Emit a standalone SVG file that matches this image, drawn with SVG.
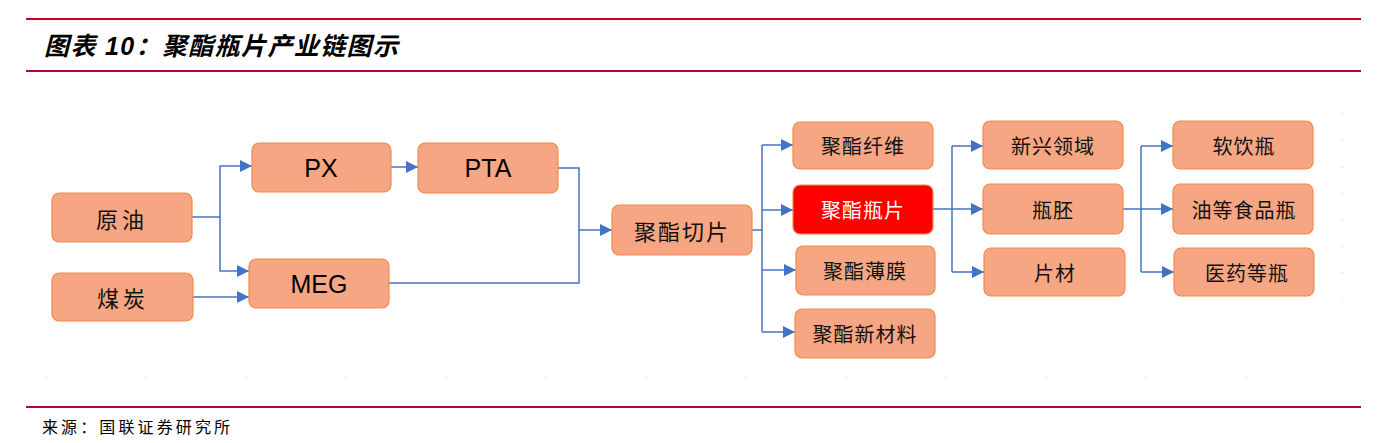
<svg xmlns="http://www.w3.org/2000/svg" width="1394" height="443" viewBox="0 0 1394 443">
<style>
.rule{stroke:#C00026;stroke-width:2;fill:none}
.box{fill:#F6A683;stroke:#F08A4B;stroke-width:1.2}
.hot{fill:#FF0000;stroke:#F08A4B;stroke-width:1.2}
.cn{font-family:"Noto Sans CJK SC",sans-serif;font-size:20px;fill:#111;text-anchor:middle;dominant-baseline:central}
.cnl{font-family:"Noto Sans CJK SC",sans-serif;font-size:22px;fill:#111;text-anchor:middle;dominant-baseline:central}
.en{font-family:"Liberation Sans",Arial,sans-serif;font-size:25px;fill:#000;text-anchor:middle;dominant-baseline:central}
.wh{fill:#fff}
.ln{stroke:#4472C4;stroke-width:1.5;fill:none}
.grid{stroke:#d9d9d9;stroke-width:1;fill:none}
</style>
<defs>
<marker id="arr" markerUnits="userSpaceOnUse" markerWidth="12" markerHeight="12" viewBox="0 0 12 12" refX="12" refY="6" orient="auto">
<path d="M0,0 L12,6 L0,12 Z" fill="#4472C4"/>
</marker>
</defs>
<rect width="1394" height="443" fill="#fff"/>
<line class="rule" x1="26" y1="19" x2="1361" y2="19"/>
<line class="rule" x1="26" y1="71" x2="1361" y2="71"/>
<line class="rule" x1="26" y1="407" x2="1361" y2="407"/>
<text x="44" y="55" font-family="'Liberation Sans','Noto Sans CJK SC',sans-serif" font-size="25" font-weight="bold" font-style="italic" textLength="354" fill="#000">图表 10：聚酯瓶片产业链图示</text>
<text x="42" y="433" font-family="'Noto Sans CJK SC',sans-serif" font-size="16" textLength="188" fill="#000">来源：国联证券研究所</text>
<g id="grid-ticks">
<line class="grid" x1="45" y1="378" x2="1345" y2="378" stroke-dasharray="2,98"/>
<line class="grid" x1="1342" y1="113" x2="1342" y2="300" stroke-dasharray="2,24.5"/>
</g>
<g id="connectors">
<path class="ln" d="M192,217 H220 V166 H252" marker-end="url(#arr)"/>
<path class="ln" d="M220,217 V271 H249" marker-end="url(#arr)"/>
<path class="ln" d="M193,297 H249" marker-end="url(#arr)"/>
<path class="ln" d="M391,167 H418" marker-end="url(#arr)"/>
<path class="ln" d="M558,168 H579 V283 H389"/>
<path class="ln" d="M579,230 H612" marker-end="url(#arr)"/>
<path class="ln" d="M752,230 H762"/>
<path class="ln" d="M762,145 V332"/>
<path class="ln" d="M762,145 H793" marker-end="url(#arr)"/>
<path class="ln" d="M762,210 H793" marker-end="url(#arr)"/>
<path class="ln" d="M762,270 H796" marker-end="url(#arr)"/>
<path class="ln" d="M762,332 H795" marker-end="url(#arr)"/>
<path class="ln" d="M933,209 H983" marker-end="url(#arr)"/>
<path class="ln" d="M952,146 V272"/>
<path class="ln" d="M952,146 H983" marker-end="url(#arr)"/>
<path class="ln" d="M952,272 H984" marker-end="url(#arr)"/>
<path class="ln" d="M1123,209 H1173" marker-end="url(#arr)"/>
<path class="ln" d="M1141,146 V272"/>
<path class="ln" d="M1141,146 H1173" marker-end="url(#arr)"/>
<path class="ln" d="M1141,272 H1174" marker-end="url(#arr)"/>
</g>
<g id="n-yuanyou"><rect class="box" x="52" y="193" width="140" height="49" rx="7"/><text class="cnl" x="122" y="217.5" letter-spacing="4">原油</text></g>
<g id="n-meitan"><rect class="box" x="52" y="273" width="141" height="48" rx="7"/><text class="cnl" x="123" y="297" letter-spacing="4">煤炭</text></g>
<g id="n-px"><rect class="box" x="252" y="143" width="139" height="49" rx="7"/><text class="en" x="321" y="167.5">PX</text></g>
<g id="n-meg"><rect class="box" x="249" y="259" width="140" height="49" rx="7"/><text class="en" x="319" y="283.5">MEG</text></g>
<g id="n-pta"><rect class="box" x="418" y="143" width="140" height="50" rx="7"/><text class="en" x="488" y="168">PTA</text></g>
<g id="n-qiepian"><rect class="box" x="612" y="205" width="140" height="50" rx="7"/><text class="cnl" x="682" y="230" letter-spacing="2">聚酯切片</text></g>
<g id="n-xianwei"><rect class="box" x="793" y="122" width="140" height="47" rx="7"/><text class="cn" x="863" y="145.5" letter-spacing="1">聚酯纤维</text></g>
<g id="n-pingpian"><rect class="hot" x="793" y="185" width="140" height="49" rx="7"/><text class="cn wh" x="863" y="209.5" letter-spacing="1">聚酯瓶片</text></g>
<g id="n-bomo"><rect class="box" x="796" y="246" width="139" height="49" rx="7"/><text class="cn" x="865" y="270.5" letter-spacing="1">聚酯薄膜</text></g>
<g id="n-xincailiao"><rect class="box" x="795" y="309" width="140" height="49" rx="7"/><text class="cn" x="865" y="333.5" letter-spacing="1">聚酯新材料</text></g>
<g id="n-xinxing"><rect class="box" x="983" y="121" width="140" height="48" rx="7"/><text class="cn" x="1053" y="145" letter-spacing="1">新兴领域</text></g>
<g id="n-pingpei"><rect class="box" x="983" y="184" width="140" height="50" rx="7"/><text class="cn" x="1053" y="209" letter-spacing="1">瓶胚</text></g>
<g id="n-piancai"><rect class="box" x="984" y="248" width="141" height="48" rx="7"/><text class="cn" x="1055" y="272" letter-spacing="1">片材</text></g>
<g id="n-ruanyin"><rect class="box" x="1173" y="121" width="140" height="48" rx="7"/><text class="cn" x="1244" y="145" letter-spacing="1">软饮瓶</text></g>
<g id="n-shipin"><rect class="box" x="1173" y="184" width="140" height="50" rx="7"/><text class="cn" x="1244" y="209" letter-spacing="1">油等食品瓶</text></g>
<g id="n-yiyao"><rect class="box" x="1174" y="248" width="140" height="48" rx="7"/><text class="cn" x="1247" y="272" letter-spacing="1">医药等瓶</text></g>
</svg>
